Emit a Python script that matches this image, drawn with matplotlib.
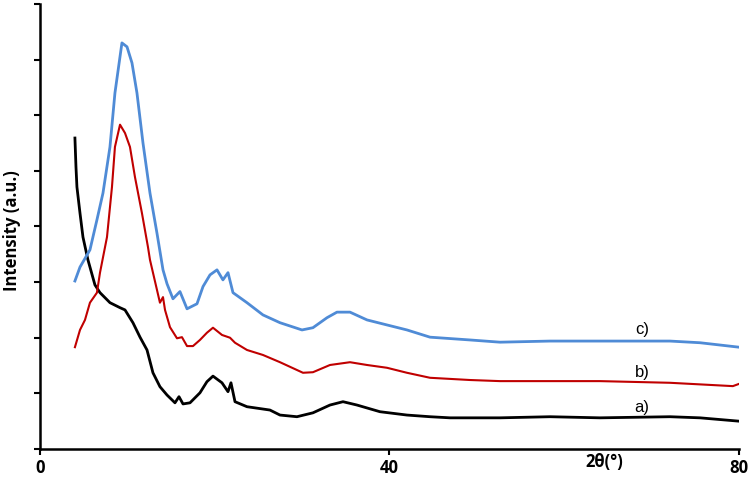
import numpy as np
import matplotlib
matplotlib.use('Agg')
import matplotlib.pyplot as plt

# ---- data (arbitrary intensity units) ----
x_a = [4.0, 4.12, 4.23, 4.58, 4.92, 5.49, 6.29, 6.87, 8.01, 9.16, 9.73, 10.64, 11.45,
       12.25, 12.93, 13.73, 14.54, 15.45, 15.91, 16.37, 17.17, 18.31, 19.11, 19.8, 20.83,
       21.52, 21.86, 22.32, 23.69, 26.32, 27.47, 29.41, 31.24, 33.19, 34.68, 36.28, 38.91,
       42.0, 44.64, 46.93, 52.65, 58.37, 64.09, 72.1, 75.54, 80.0]
y_a = [5.59, 5.07, 4.71, 4.24, 3.81, 3.40, 2.95, 2.81, 2.63, 2.54, 2.50, 2.27, 2.01,
       1.78, 1.37, 1.12, 0.97, 0.83, 0.94, 0.81, 0.83, 1.01, 1.21, 1.31, 1.19,
       1.03, 1.19, 0.85, 0.76, 0.70, 0.61, 0.58, 0.65, 0.79, 0.85, 0.79, 0.67,
       0.61, 0.58, 0.56, 0.56, 0.58, 0.56, 0.58, 0.56, 0.50]

x_b = [4.0, 4.58, 5.15, 5.72, 6.52, 6.87, 7.67, 8.24, 8.58, 9.16, 9.73, 10.3, 10.87,
       11.67, 12.36, 12.59, 13.39, 13.73, 14.08, 14.31, 14.88, 15.68, 16.25, 16.83, 17.51,
       18.31, 19.11, 19.8, 20.83, 21.75, 22.32, 23.69, 25.52, 27.47, 30.1, 31.24, 33.19,
       35.48, 37.43, 39.71, 42.0, 44.64, 49.21, 52.65, 58.37, 64.09, 72.1, 79.3, 80.0]
y_b = [1.83, 2.14, 2.32, 2.63, 2.81, 3.17, 3.81, 4.71, 5.43, 5.83, 5.68, 5.43, 4.89,
       4.24, 3.63, 3.40, 2.86, 2.63, 2.73, 2.50, 2.19, 1.99, 2.01, 1.85, 1.85,
       1.96, 2.09, 2.18, 2.05, 2.0, 1.91, 1.78, 1.69, 1.56, 1.37, 1.38, 1.51,
       1.56, 1.51, 1.46, 1.37, 1.28, 1.24, 1.22, 1.22, 1.22, 1.19, 1.13, 1.17]

x_c = [4.0, 4.58, 5.72, 6.52, 7.21, 8.01, 8.58, 9.38, 9.96, 10.53, 11.1, 11.79, 12.59,
       13.39, 14.08, 14.54, 15.22, 16.02, 16.83, 17.97, 18.66, 19.46, 20.26, 20.94,
       21.52, 22.09, 22.89, 23.69, 25.52, 27.47, 29.99, 31.24, 32.85, 33.99, 35.48, 37.43,
       39.71, 42.0, 44.64, 49.21, 52.65, 58.37, 64.09, 72.1, 75.54, 80.0]
y_c = [3.02, 3.27, 3.58, 4.12, 4.60, 5.43, 6.40, 7.30, 7.23, 6.94, 6.40, 5.50, 4.60,
       3.88, 3.22, 2.97, 2.70, 2.83, 2.52, 2.61, 2.92, 3.13, 3.22, 3.04,
       3.17, 2.81, 2.72, 2.63, 2.41, 2.27, 2.14, 2.18, 2.36, 2.46, 2.46, 2.32,
       2.23, 2.14, 2.01, 1.96, 1.92, 1.94, 1.94, 1.94, 1.91, 1.83]

labels = ['a)', 'b)', 'c)']
label_x = 68.9
label_y = [0.74, 1.38, 2.14]

fig = plt.figure(figsize=(7.5, 4.78), dpi=100)
ax = fig.add_axes([0.0533, 0.0607, 0.932, 0.931])

ax.plot(x_a, y_a, color='black', lw=2.0)
ax.plot(x_b, y_b, color='#C00000', lw=1.5)
ax.plot(x_c, y_c, color='#4F8BD6', lw=2.0)

for lab, ly in zip(labels, label_y):
    ax.text(label_x, ly, lab, fontsize=12, family='Liberation Sans', ha='center', va='center')

ax.set_xlim(0, 80)
ax.set_ylim(0, 8)
ax.set_xticks([0, 40, 80])
ax.set_xticklabels(['0', '40', '80'], fontsize=12, fontweight='bold', family='Open Sans')
ax.set_yticks(np.arange(0, 9, 1))
ax.set_yticklabels([])
ax.tick_params(axis='both', direction='out', length=4, width=1.5, color='black')
ax.tick_params(axis='x', pad=3)

for s in ['top', 'right']:
    ax.spines[s].set_visible(False)
for s in ['left', 'bottom']:
    ax.spines[s].set_linewidth(1.8)

ax.set_ylabel('Intensity (a.u.)', fontsize=12, fontweight='bold', family='Open Sans')
ax.yaxis.set_label_coords(-0.027, 0.49)
ax.set_xlabel('2θ(°)', fontsize=12, fontweight='bold', family='Open Sans')
ax.xaxis.set_label_coords(0.808, -0.008)

plt.savefig('out.png', dpi=100)
